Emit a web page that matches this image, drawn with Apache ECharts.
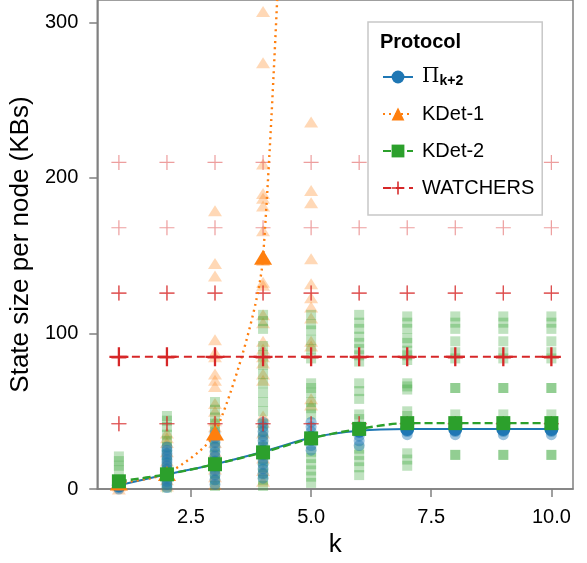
<!DOCTYPE html>
<html>
<head>
<meta charset="utf-8">
<script src="https://cdn.jsdelivr.net/npm/echarts@6/dist/echarts.min.js"></script>
<style>html,body{margin:0;padding:0;background:#fff}#c{width:587px;height:563px}</style>
</head>
<body>
<div id="c"></div>
<script>
// ---- data ----
const ks = [1, 2, 3, 4, 5, 6, 7, 8, 9, 10];
const kdet1Ks = [1, 2, 3, 4, 5];
const xTicks = [2.5, 5, 7.5, 10];
const yTicks = [0, 100, 200, 300];

const piMean = [2.5, 9.5, 16, 24, 33, 37.5, 38.6, 38.6, 38.6, 38.6];
const kdet1Mean = [4, 10, 36, 149, 900];
const kdet2Mean = [5, 9.5, 16, 23.6, 32.6, 38.7, 42.4, 42.4, 42.4, 42.4];
const watchersMean = [85, 85, 85, 85, 85, 85, 85, 85, 85, 85];

const piPts = [
  [0, 1, 2, 3, 4, 5],
  [1, 3, 5, 7, 9, 11, 13, 15, 17, 19, 21, 23, 25, 27],
  [3, 6, 9, 12, 15, 18, 21, 24, 27, 30, 33, 36],
  [7, 10, 13, 16, 19, 22, 25, 28, 31, 34, 37, 40, 43],
  [25, 28, 31, 34, 37, 40, 43],
  [28, 31, 34, 37, 40],
  [35, 37, 39, 41, 43],
  [35, 37, 39, 41, 43],
  [35, 37, 39, 41, 43],
  [35, 37, 39, 41, 43]
];
const kdet1Pts = [
  [0, 2, 4, 6],
  [2, 6, 10, 14, 18, 24, 30, 33, 36],
  [3, 8, 13, 18, 24, 30, 40, 44, 50, 55, 66, 70, 74, 85, 88, 96, 137, 145, 179],
  [5, 12, 20, 28, 36, 43, 47, 70, 74, 81, 85, 90, 95, 107, 112, 131, 133, 147, 166, 182, 187, 190, 209, 274, 307],
  [54, 58, 92, 95, 110, 117, 123, 132, 148, 184, 192, 236]
];
const kdet2Pts = [
  [2, 4, 6, 12, 15, 18, 21],
  [1, 4, 8, 12, 17, 22, 27, 31, 35, 40, 44, 47],
  [2, 6, 10, 14, 18, 22, 27, 32, 37, 42, 46, 51, 56],
  [2, 6, 10, 14, 18, 22, 27, 32, 37, 42, 50, 56, 62, 68, 74, 80, 86, 92, 103, 108, 112],
  [4, 8, 12, 16, 20, 24, 48, 52, 56, 62, 65, 68, 84, 90, 96, 102, 106, 112],
  [9, 14, 18, 22, 26, 45, 48, 58, 63, 68, 82, 86, 90, 94, 98, 103, 107, 112],
  [15, 19, 23, 47, 50, 64, 66, 68, 83, 86, 89, 94, 97, 103, 107, 111],
  [22, 22, 48, 65, 65, 84, 88, 95, 103, 107, 111],
  [22, 22, 48, 65, 65, 84, 88, 95, 103, 107, 111],
  [22, 22, 48, 65, 65, 84, 88, 95, 103, 107, 111]
];
const watchersPtsEachK = [42, 42, 42, 84, 126, 126, 126, 168, 210];

const names = ['Π_k+2', 'KDet-1', 'KDet-2', 'WATCHERS'];
const colors = ['#1f77b4', '#ff7f0e', '#2ca02c', '#d62728'];
const plusPath = 'path://M9.2,0H10.8V9.2H20V10.8H10.8V20H9.2V10.8H0V9.2H9.2Z';
const plusBold = 'path://M8.8,0H11.2V8.8H20V11.2H11.2V20H8.8V11.2H0V8.8H8.8Z';

function pairs(xs, lists) {
  const out = [];
  lists.forEach((vals, i) => vals.forEach(v => out.push([xs[i], v])));
  return out;
}
function line(xs, ys) { return xs.map((x, i) => [x, ys[i]]); }

const FONT = 'Liberation Sans, Arial, Helvetica, sans-serif';

const chart = echarts.init(document.getElementById('c'), null, { renderer: 'canvas' });

const option = {
  animation: false,
  backgroundColor: '#fff',
  grid: { left: 97, right: 14, top: 0, bottom: 69, show: true, borderColor: '#808080', borderWidth: 1.5, backgroundColor: 'transparent' },
  title: {
    text: 'Protocol', left: 375, top: 27,
    textStyle: { fontFamily: FONT, fontWeight: 'bold', fontSize: 20, color: '#000' }
  },
  legend: {
    data: names,
    orient: 'vertical',
    left: 368, top: 22,
    padding: [44, 8, 16, 14],
    backgroundColor: '#fff',
    borderColor: '#c8c8c8', borderWidth: 1.5, borderRadius: 0,
    itemWidth: 30, itemHeight: 16, itemGap: 15,
    textStyle: {
      fontFamily: FONT, fontSize: 20, color: '#000', lineHeight: 22, padding: [0, 0, 0, 4],
      rich: {
        pi: { fontFamily: 'DejaVu Serif', fontSize: 20, color: '#000', lineHeight: 22 },
        sub: { fontFamily: FONT, fontSize: 14, fontWeight: 'bold', color: '#000', verticalAlign: 'bottom', lineHeight: 14 }
      }
    },
    formatter: n => n === 'Π_k+2' ? '{pi|Π}{sub|k+2}' : n
  },
  xAxis: {
    type: 'value', min: 0.55, max: 10.45,
    name: 'k', nameLocation: 'middle', nameGap: 42,
    nameTextStyle: { fontFamily: FONT, fontSize: 26, color: '#000' },
    axisLine: { show: true, lineStyle: { color: '#808080', width: 1.5 } },
    axisTick: { show: true, length: 8, lineStyle: { color: '#808080', width: 1.5 }, customValues: xTicks },
    axisLabel: { fontFamily: FONT, fontSize: 20, color: '#000', margin: 18, customValues: xTicks, formatter: v => Number(v).toFixed(1) },
    splitLine: { show: false }
  },
  yAxis: {
    type: 'value', min: 0, max: 314.4,
    name: 'State size per node (KBs)', nameLocation: 'middle', nameGap: 43, nameRotate: 90,
    nameTextStyle: { fontFamily: FONT, fontSize: 26, color: '#000' },
    axisLine: { show: true, lineStyle: { color: '#808080', width: 1.5 } },
    axisTick: { show: true, length: 8, lineStyle: { color: '#808080', width: 1.5 }, customValues: yTicks },
    axisLabel: { fontFamily: FONT, fontSize: 20, color: '#000', margin: 19, customValues: yTicks },
    splitLine: { show: false }
  },
  series: [
    { type: 'scatter', silent: true, z: 2, name: 'k1_pts', data: pairs(kdet1Ks, kdet1Pts), symbol: 'triangle', symbolSize: [14, 11], itemStyle: { color: colors[1], opacity: 0.3 } },
    { type: 'scatter', silent: true, z: 2, name: 'k2_pts', data: pairs(ks, kdet2Pts), symbol: 'rect', symbolSize: [10, 10], itemStyle: { color: colors[2], opacity: 0.3 } },
    { type: 'scatter', silent: true, z: 3, name: 'pi_pts', data: pairs(ks, piPts), symbol: 'circle', symbolSize: 11, itemStyle: { color: colors[0], opacity: 0.45 } },
    { type: 'scatter', silent: true, z: 3, name: 'w_pts', data: pairs(ks, ks.map(() => watchersPtsEachK)), symbol: plusPath, symbolSize: 15, itemStyle: { color: colors[3], opacity: 0.45 } },
    {
      name: names[0], type: 'line', z: 5, data: line(ks, piMean), smooth: 0.3,
      symbol: 'circle', symbolSize: 14, showSymbol: true,
      lineStyle: { color: colors[0], width: 2 }, itemStyle: { color: colors[0] }
    },
    {
      name: names[1], type: 'line', z: 5, data: line(kdet1Ks, kdet1Mean), smooth: 0.25,
      symbol: 'triangle', symbolSize: [18, 15], showSymbol: true,
      lineStyle: { color: colors[1], width: 2.4, type: [2, 4] }, itemStyle: { color: colors[1] }
    },
    {
      name: names[2], type: 'line', z: 6, data: line(ks, kdet2Mean), smooth: 0.3,
      symbol: 'rect', symbolSize: 14, showSymbol: true,
      lineStyle: { color: colors[2], width: 2.4, type: [8, 4] }, itemStyle: { color: colors[2] }
    },
    {
      name: names[3], type: 'line', z: 6, data: line(ks, watchersMean),
      symbol: plusBold, symbolSize: 19, showSymbol: true,
      lineStyle: { color: colors[3], width: 2, type: [8, 5] }, itemStyle: { color: colors[3] }
    }
  ]
};
chart.setOption(option);
</script>
</body>
</html>
